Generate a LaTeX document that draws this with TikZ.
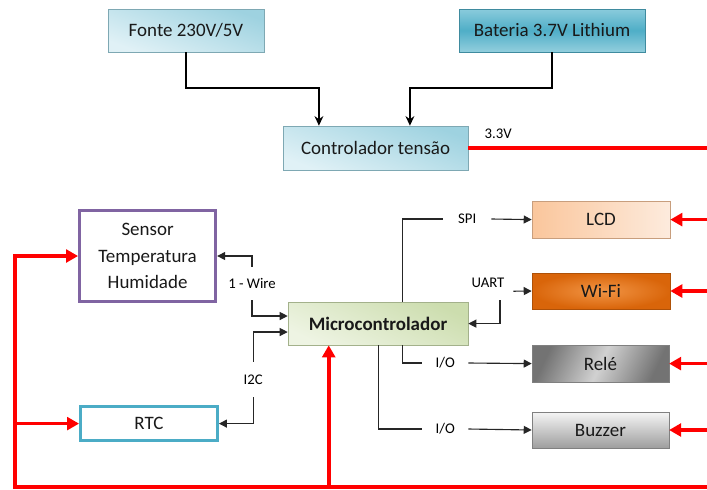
\documentclass[tikz,border=0pt]{standalone}
\usepackage{fontspec}
\setmainfont{Carlito}
\usepackage{tikz}
\usetikzlibrary{arrows.meta,positioning,calc,shadows}

\definecolor{supplytop}{HTML}{9ED2E0}
\definecolor{supplybottom}{HTML}{E0F1F6}
\definecolor{batterytop}{HTML}{8ACBDC}
\definecolor{batterymid}{HTML}{4FAEC7}
\definecolor{batterybottom}{HTML}{92CEDD}
\definecolor{sensorpurple}{HTML}{8064A2}
\definecolor{rtcblue}{HTML}{4BACC6}
\definecolor{mcutop}{HTML}{CCDDAE}
\definecolor{mcubottom}{HTML}{EEF4E3}
\definecolor{lcdleft}{HTML}{FAC69C}
\definecolor{lcdright}{HTML}{FDEBDD}
\definecolor{wifidark}{HTML}{D9650A}
\definecolor{wifilight}{HTML}{F29545}
\definecolor{powerred}{HTML}{FF0000}

\tikzset{
  block/.style={
    rectangle,
    draw=black!25,
    line width=0.4pt,
    minimum width=34mm,
    minimum height=9.2mm,
    inner sep=1pt,
    align=center,
    text=black!90,
    font=\fontsize{13.5}{16}\selectfont,
    drop shadow={shadow xshift=0.7pt,shadow yshift=-0.7pt,opacity=0.35,fill=black!60}
  }
}
\tikzset{
  supply block/.style={
    block,
    top color=supplytop,
    bottom color=supplybottom,
    shading angle=-20,
    draw=supplytop!80!black
  }
}
\tikzset{
  battery block/.style={
    block,
    top color=batterytop,
    bottom color=batterybottom,
    middle color=batterymid,
    draw=batterymid!80!black
  }
}
\tikzset{
  outline block/.style={
    rectangle,
    fill=white,
    line width=2.2pt,
    minimum width=34mm,
    align=center,
    text=black!90,
    font=\fontsize{13.5}{16}\selectfont
  }
}
\tikzset{
  mcu block/.style={
    block,
    top color=mcutop,
    bottom color=mcubottom,
    shading angle=-25,
    draw=mcutop!80!black,
    font=\fontsize{13.5}{16}\selectfont\bfseries
  }
}
\tikzset{
  lcd block/.style={
    block,
    left color=lcdleft,
    right color=lcdright,
    draw=lcdleft!80!black
  }
}
\tikzset{
  wifi block/.style={
    block,
    outer color=wifidark,
    inner color=wifilight,
    draw=wifidark!80!black
  }
}
\tikzset{
  relay block/.style={
    block,
    left color=black!55,
    right color=black!55,
    middle color=black!18,
    shading angle=65,
    draw=black!50
  }
}
\tikzset{
  buzzer block/.style={
    block,
    top color=black!4,
    bottom color=black!38,
    draw=black!50
  }
}
\tikzset{
  bus label/.style={
    rectangle,
    inner sep=0pt,
    minimum width=11.5mm,
    minimum height=8.2mm,
    font=\fontsize{10.5}{12}\selectfont
  }
}
\tikzset{
  power/.style={
    -{Stealth[length=2.4mm,width=2.2mm]},
    draw=black,
    line width=1.8pt
  }
}
\tikzset{
  bus/.style={
    -{Triangle[length=2mm,width=2mm]},
    draw=black!85,
    line width=0.8pt
  }
}
\tikzset{
  supply/.style={
    -{Triangle[length=3mm,width=3.2mm]},
    draw=powerred,
    line width=2.6pt
  }
}

\begin{document}
\begin{tikzpicture}

    \useasboundingbox (0,0) rectangle (17.675,-12.225);

    % ------------------------------------------------------------
    % Nodes
    % ------------------------------------------------------------

    \node[supply block,minimum width=3.9cm,minimum height=1.07cm] (fonte) at (4.65,-0.76)
    {Fonte 230V/5V};

    \node[battery block,minimum width=4.65cm,minimum height=1.07cm] (bateria) at (13.8,-0.76)
    {Bateria 3.7V Lithium};

    \node[supply block,minimum width=4.62cm,minimum height=1.1cm] (ctrl) at (9.39,-3.70)
    {Controlador tensão};

    \node[outline block,draw=sensorpurple,minimum width=3.4cm,minimum height=2.28cm] (sensor) at (3.69,-6.40)
    {Sensor\\[3pt]Temperatura\\[3pt]Humidade};

    \node[outline block,draw=rtcblue,minimum width=3.42cm,minimum height=0.86cm] (rtc) at (3.725,-10.59)
    {RTC};

    \node[mcu block,minimum width=4.5cm,minimum height=1.07cm] (mcu) at (9.45,-8.09)
    {Microcontrolador};

    \node[lcd block,minimum width=3.45cm,minimum height=0.92cm] (lcd) at (15.025,-5.49)
    {LCD};

    \node[wifi block,minimum width=3.45cm,minimum height=0.9cm] (wifi) at (15.025,-7.275)
    {Wi-Fi};

    \node[relay block,minimum width=3.42cm,minimum height=0.92cm] (rele) at (15.01,-9.09)
    {Relé};

    \node[buzzer block,minimum width=3.42cm,minimum height=0.9cm] (buzzer) at (15.01,-10.75)
    {Buzzer};

    % bus labels
    \node[bus label] (wire) at (6.3,-7.09) {1 - Wire};
    \node[bus label,minimum height=8.8mm] (i2c) at (6.33,-9.49) {I2C};
    \node[bus label,minimum width=12mm] (spi) at (11.68,-5.475) {SPI};
    \node[bus label,minimum width=12.5mm,minimum height=8.5mm] (uart) at (12.2,-7.08) {UART};
    \node[bus label] (io1) at (11.13,-9.075) {I/O};
    \node[bus label] (io2) at (11.13,-10.725) {I/O};

    % supply rail ends
    \coordinate (vcc) at (17.675,-3.70);
    \coordinate (loop se) at (17.675,-12.175);
    \coordinate (loop sw) at (0.375,-12.175);
    \coordinate (mcu in) at ([xshift=1.025cm]mcu.south west);

    % ------------------------------------------------------------
    % Edges
    % ------------------------------------------------------------

    \draw[power]
      (fonte.south)
      -- ++(0,-0.9)
      -| ([xshift=0.9cm]ctrl.north west);

    \draw[power]
      (bateria.south)
      -- ++(0,-0.9)
      -| ([xshift=3.175cm]ctrl.north west);

    \draw[supply,-]
      (ctrl.east)
      --
      node[pos=0.03,above right=6pt,font=\fontsize{10.5}{12}\selectfont,inner sep=1pt] {3.3V}
      (vcc);

    \draw[supply] (lcd.east -| vcc) -- (lcd.east);
    \draw[supply] (wifi.east -| vcc) -- (wifi.east);
    \draw[supply] (rele.east -| vcc) -- (rele.east);
    \draw[supply] (buzzer.east -| vcc) -- (buzzer.east);

    \draw[supply]
      (loop se)
      -- (loop sw)
      |- (sensor.west);

    \draw[supply] (loop sw |- rtc.west) -- (rtc.west);
    \draw[supply] (mcu in |- loop sw) -- (mcu in);

    \draw[bus] (wire.north) |- (sensor.east);
    \draw[bus] (wire.south) |- ([yshift=0.19cm]mcu.west);

    \draw[bus] (i2c.north) |- ([yshift=-0.21cm]mcu.west);
    \draw[bus] (i2c.south) |- (rtc.east);

    \draw[bus,-] ([xshift=2.875cm]mcu.north west) |- (spi.west);
    \draw[bus] (spi.east) -- (lcd.west);

    \draw[bus] ([yshift=-0.2cm]uart.east) -- (wifi.west);
    \draw[bus] ([xshift=0.3cm]uart.south) |- (mcu.east);

    \draw[bus,-] ([xshift=2.875cm]mcu.south west) |- (io1.west);
    \draw[bus] (io1.east) -- (rele.west);

    \draw[bus,-] ([xshift=2.275cm]mcu.south west) |- (io2.west);
    \draw[bus] (io2.east) -- (buzzer.west);

    \end{tikzpicture}
\end{document}
